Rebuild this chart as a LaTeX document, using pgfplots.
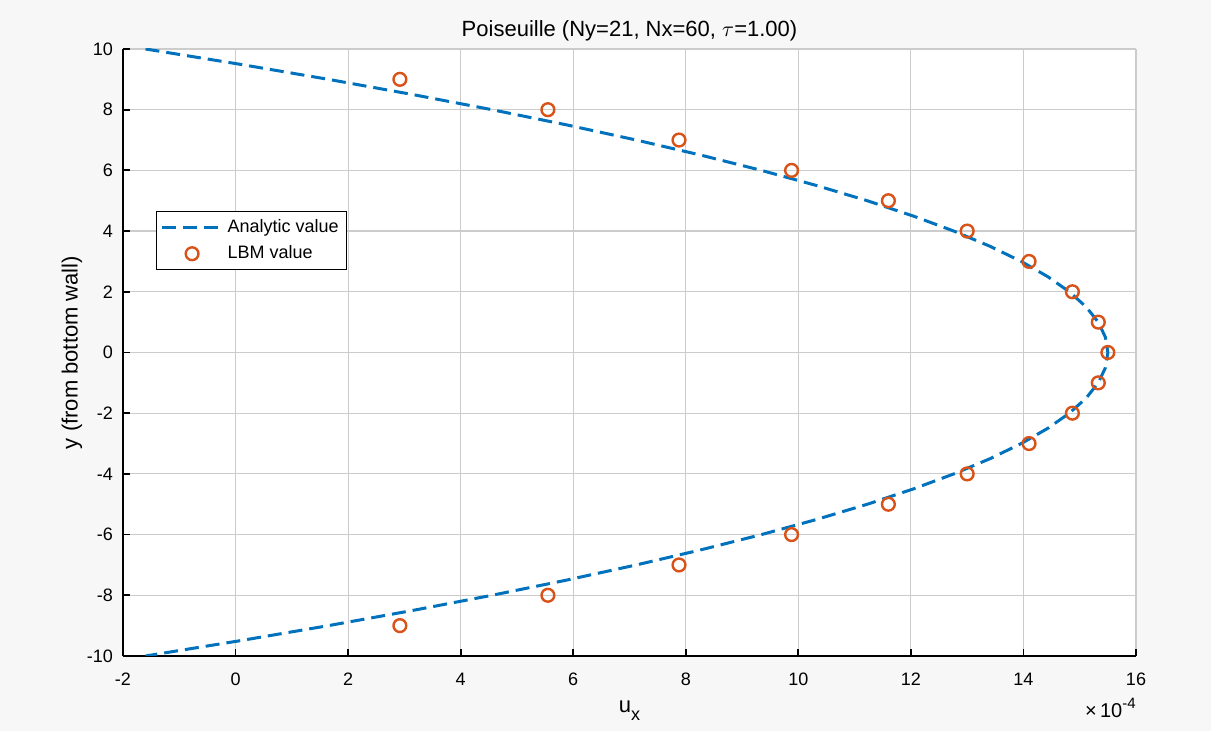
\documentclass[border=0pt]{standalone}
\usepackage{fontspec}
\setmainfont{Liberation Sans}
\usepackage{pgfplots}
\pgfplotsset{compat=1.18}
\usetikzlibrary{backgrounds}

\definecolor{mblue}{RGB}{0,114,189}
\definecolor{morange}{RGB}{217,83,25}
\definecolor{figbg}{RGB}{247,247,247}

\begin{document}
\begin{tikzpicture}
\begin{axis}[
    scale only axis,
    width=506.5pt,
    height=303.5pt,
    xmin=-2, xmax=16,
    ymin=-10, ymax=10,
    xtick={-2,0,...,16},
    ytick={-10,-8,...,10},
    axis lines=left,
    axis line style={-, line width=0.9pt},
    tick align=inside,
    major tick length=3.5pt,
    tick style={line width=0.9pt, black},
    grid=major,
    grid style={line width=0.6pt, draw=black!20},
    axis background/.style={fill=white},
    scaled ticks=false,
    /pgf/number format/assume math mode=true,
    tick label style={font=\fontsize{9}{10}\selectfont},
    xticklabel style={yshift=-5pt},
    yticklabel style={xshift=-1.5pt},
    xlabel={u\raisebox{-4pt}{\fontsize{9}{9}\selectfont x}},
    xlabel style={at={(axis description cs:0.5,0)}, anchor=base, yshift=-28.5pt,
        font=\fontsize{11}{13}\selectfont},
    ylabel={y (from bottom wall)},
    ylabel style={at={(axis description cs:-0.0503,0.5)}, anchor=center,
        font=\fontsize{11}{13}\selectfont},
    legend style={at={(0.0326,0.733)}, anchor=north west, draw=black,
        line width=0.6pt, fill=white, font=\fontsize{9}{10}\selectfont,
        inner sep=2pt, row sep=1pt, cells={anchor=west}},
    legend image code/.code={
        \draw[mark repeat=2, mark phase=2, #1]
            plot coordinates {(0pt,0pt) (15pt,0pt) (30pt,0pt)};
    },
]
\addplot[mblue, line width=1.5pt, dash pattern=on 7pt off 3.5pt] coordinates {
    (-1.600,10) (0.067,9.5) (1.649,9) (3.145,8.5) (4.556,8) (5.881,7.5)
    (7.121,7) (8.275,6.5) (9.344,6) (10.327,5.5) (11.225,5) (12.037,4.5)
    (12.764,4) (13.405,3.5) (13.961,3) (14.431,2.5) (14.816,2) (15.115,1.5)
    (15.329,1) (15.457,0.5) (15.500,0)
    (15.457,-0.5) (15.329,-1) (15.115,-1.5) (14.816,-2) (14.431,-2.5)
    (13.961,-3) (13.405,-3.5) (12.764,-4) (12.037,-4.5) (11.225,-5)
    (10.327,-5.5) (9.344,-6) (8.275,-6.5) (7.121,-7) (5.881,-7.5)
    (4.556,-8) (3.145,-8.5) (1.649,-9) (0.067,-9.5) (-1.600,-10)
};
\addlegendentry{Analytic value}
\addplot[only marks, mark=o, mark size=3.2pt, morange,
    mark options={line width=1.2pt}] coordinates {
    (2.92,9) (5.55,8) (7.88,7) (9.88,6) (11.60,5) (13.00,4) (14.10,3)
    (14.87,2) (15.33,1) (15.50,0) (15.33,-1) (14.87,-2) (14.10,-3)
    (13.00,-4) (11.60,-5) (9.88,-6) (7.88,-7) (5.55,-8) (2.92,-9)
};
\addlegendentry{LBM value}
\coordinate (sw) at (axis description cs:0,0);
\coordinate (se) at (axis description cs:1,0);
\coordinate (nc) at (axis description cs:0.5,1);
\coordinate (ne) at (axis description cs:1,1);
\end{axis}
\node[anchor=base, font=\fontsize{11}{13}\selectfont, yshift=6pt] at (nc)
    {Poiseuille (Ny=21, Nx=60, $\tau$=1.00)};
\node[anchor=base east, font=\fontsize{10}{11}\selectfont, yshift=-31pt, inner sep=0pt]
    at (se) {×\,10\raisebox{4.5pt}{\fontsize{7.5}{7.5}\selectfont -4}};
\pgfresetboundingbox
\path (sw) ++(-61.5pt,-37.5pt) coordinate (bsw);
\path (ne) ++(37.5pt,24.5pt) coordinate (bne);
\begin{scope}[on background layer]
\fill[figbg] (bsw) rectangle (bne);
\end{scope}
\useasboundingbox (bsw) rectangle (bne);
\end{tikzpicture}
\end{document}
